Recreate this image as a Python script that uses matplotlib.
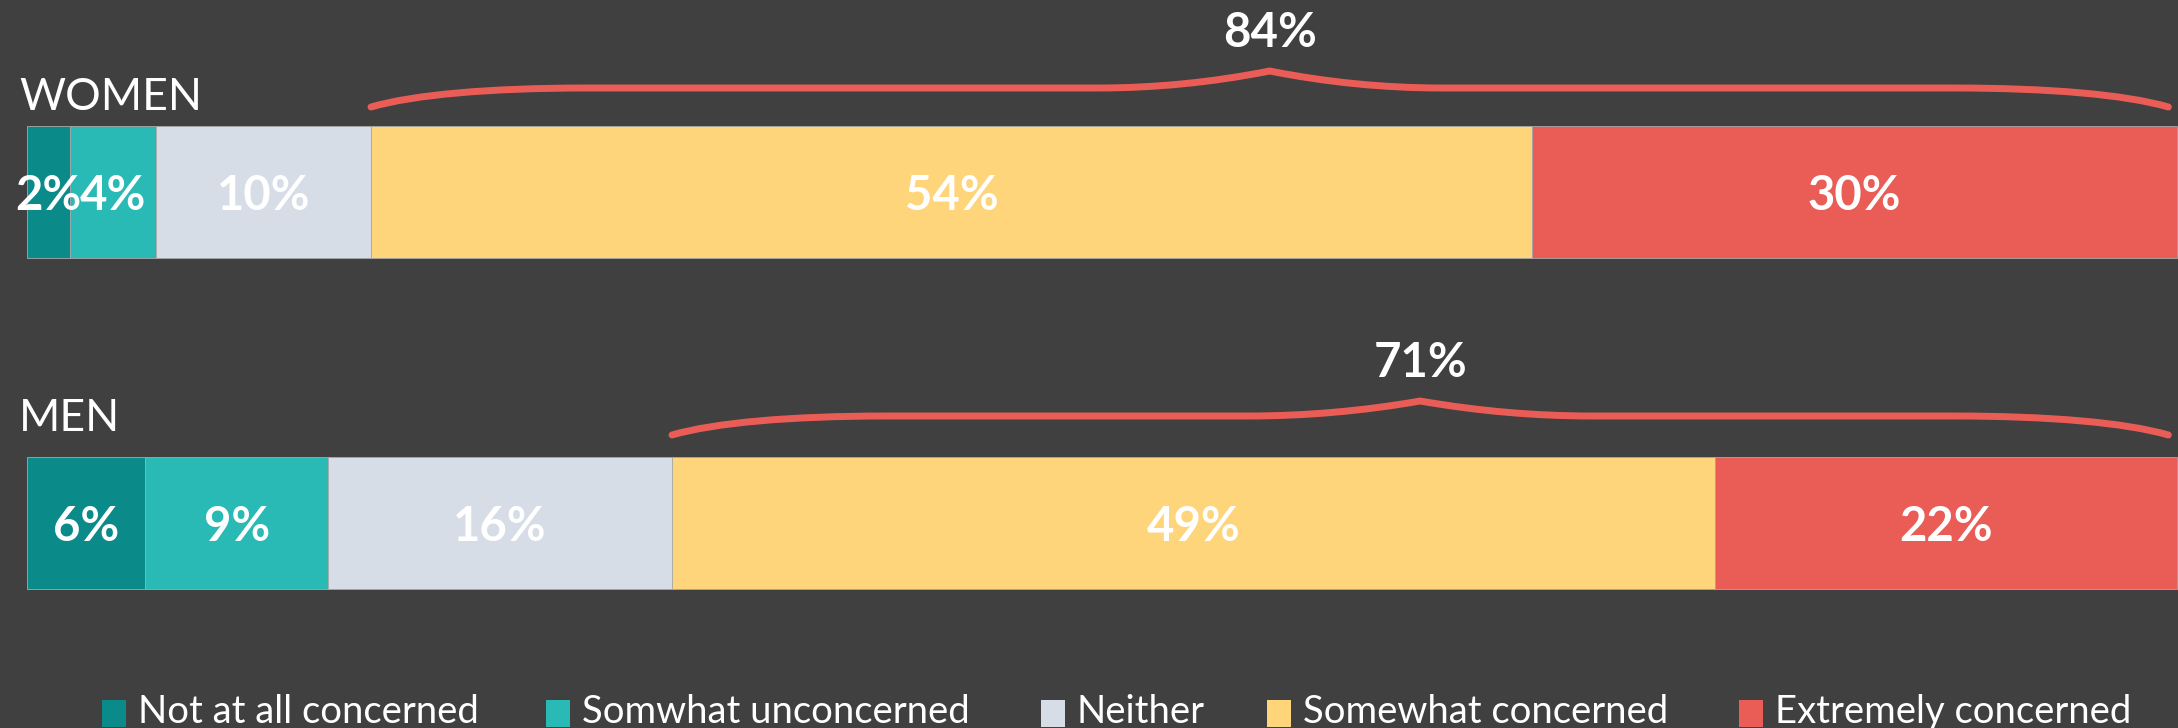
import matplotlib
matplotlib.use("Agg")
import matplotlib.pyplot as plt
from matplotlib.path import Path
from matplotlib.patches import PathPatch, Rectangle
import numpy as np

# ---------------- data ----------------
groups = ["WOMEN", "MEN"]
categories = ["Not at all concerned", "Somwhat unconcerned", "Neither",
              "Somewhat concerned", "Extremely concerned"]
women_values = [2, 4, 10, 54, 30]
men_values = [5.5, 8.5, 16, 48.5, 21.5]
women_labels = ["2%", "4%", "10%", "54%", "30%"]
men_labels = ["6%", "9%", "16%", "49%", "22%"]
concerned_totals = ["84%", "71%"]

colors = ["#0B8A8A", "#2ABAB6", "#D6DDE6", "#FED57B", "#EA5C56"]
BG = "#404040"
BRACE = "#EA5C56"

# ---------------- layout ----------------
W, H = 2178, 728
fig = plt.figure(figsize=(W / 100, H / 100), dpi=100, facecolor=BG)
ax = fig.add_axes([0, 0, 1, 1])
ax.set_facecolor(BG)
px_per_unit = 21.5
left_px = 27
ax.set_xlim(-left_px / px_per_unit, (W - left_px) / px_per_unit)
ax.set_ylim(H, 0)
ax.axis("off")

bar_centers = [192, 523]
bar_height = 132
title_baselines = [110, 431]
brace_geom = [  # (y_end, y_line, y_tip, label_baseline)
    (107, 88, 71, 47),
    (435, 416, 401, 377),
]

LABEL_FONT = dict(family="Lato", weight="bold", size=34, color="white")


def half_curve(xa, ya, y_line, L):
    """cubic from (xa, ya) flattening to (xa+L, y_line)"""
    return [(xa, ya),
            (xa + L * 0.2, y_line + (ya - y_line) * 0.35),
            (xa + L * 0.55, y_line),
            (xa + L, y_line)]


def tip_curve(xa, ya, y_line, L):
    return [(xa, ya),
            (xa + L / 3, y_line + (ya - y_line) / 3),
            (xa + 2 * L / 3, y_line),
            (xa + L, y_line)]


def draw_brace(ax, x0, x1, y_end, y_line, y_tip, Le=10.0, Lt=8.0):
    xm = (x0 + x1) / 2
    c1 = half_curve(x0, y_end, y_line, Le)            # left end
    t1 = tip_curve(xm, y_tip, y_line, -Lt)[::-1]       # into tip from left
    t2 = tip_curve(xm, y_tip, y_line, Lt)              # out of tip to right
    c2 = half_curve(x1, y_end, y_line, -Le)[::-1]      # right end
    verts = c1 + [t1[0]] + t1[1:] + t2[1:] + [c2[0]] + c2[1:]
    codes = ([Path.MOVETO] + [Path.CURVE4] * 3 + [Path.LINETO] + [Path.CURVE4] * 3
             + [Path.CURVE4] * 3 + [Path.LINETO] + [Path.CURVE4] * 3)
    ax.add_patch(PathPatch(Path(verts, codes), fill=False, edgecolor=BRACE,
                           linewidth=5, capstyle="round", joinstyle="round"))
    return xm


for gi, (vals, labs) in enumerate([(women_values, women_labels), (men_values, men_labels)]):
    yc = bar_centers[gi]
    lefts = np.concatenate([[0], np.cumsum(vals)[:-1]])
    ax.barh(yc, vals, left=lefts, height=bar_height, color=colors,
            edgecolor="#A8A8A8", linewidth=0.6)
    for l, v, t in zip(lefts, vals, labs):
        ax.text(l + v / 2, yc + 18, t, ha="center", va="baseline", **LABEL_FONT)
    # group title
    ax.text(-left_px / px_per_unit + 19 / px_per_unit, title_baselines[gi], groups[gi],
            ha="left", va="baseline", family="Lato", weight="normal", size=32, color="white")
    # brace over concerned categories
    y_end, y_line, y_tip, lab_base = brace_geom[gi]
    start = lefts[3]
    xm = draw_brace(ax, start, 99.6, y_end, y_line, y_tip)
    ax.text(xm, lab_base, concerned_totals[gi], ha="center", va="baseline", **LABEL_FONT)

# ---------------- legend (manual) ----------------
sq_x = [102, 546, 1041, 1267, 1739]
sq_w, sq_top, sq_bot = 24, 700, 727
for x, c, name in zip(sq_x, colors, categories):
    fig.patches.append(Rectangle((x / W, 1 - sq_bot / H), sq_w / W, (sq_bot - sq_top) / H,
                                 transform=fig.transFigure, facecolor=c, edgecolor="none"))
    fig.text((x + sq_w + 12) / W, 1 - 723 / H, name, ha="left", va="baseline",
             family="Lato", weight="normal", size=27.5, color="white")

fig.savefig("out.png", dpi=100, facecolor=BG)
